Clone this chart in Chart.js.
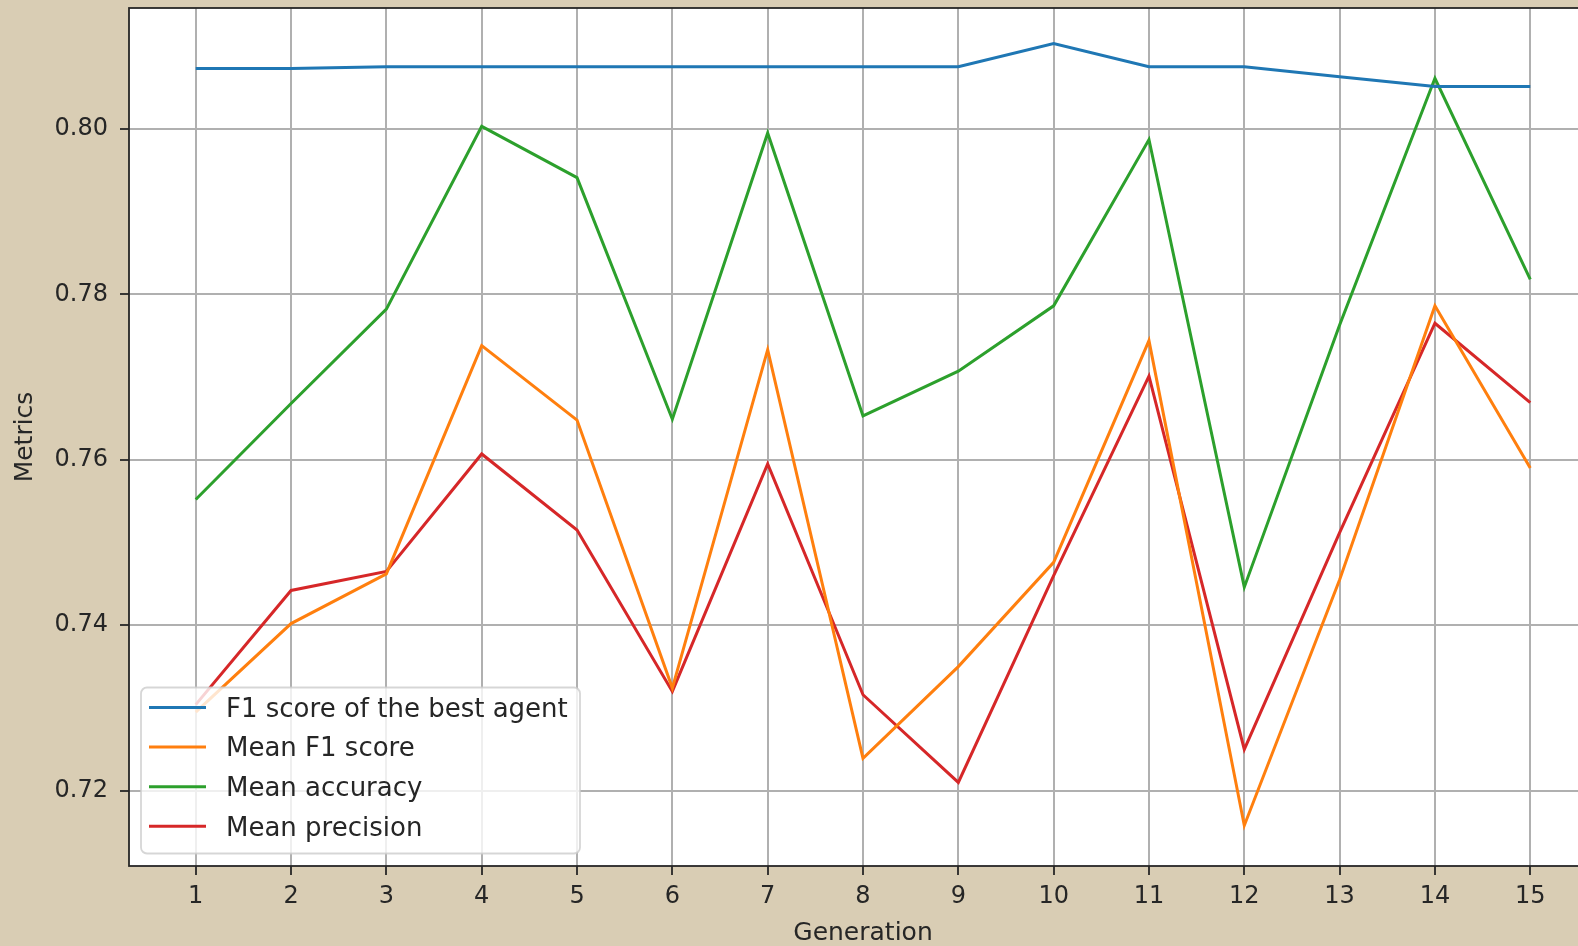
<!DOCTYPE html>
<html>
<head>
<meta charset="utf-8">
<title>Metrics per generation</title>
<script src="https://cdn.jsdelivr.net/npm/chart.js@4.4.1/dist/chart.umd.min.js"></script>
<style>
  html, body { margin: 0; padding: 0; background: #d9cdb4; overflow: hidden; }
  #wrap { width: 1600px; height: 946px; }
  canvas { display: block; }
</style>
</head>
<body>
<div id="wrap"><canvas id="chart" width="1600" height="946"></canvas></div>
<script>
// Generations on the x axis
const generations = [1, 2, 3, 4, 5, 6, 7, 8, 9, 10, 11, 12, 13, 14, 15];

// Metric series, one value per generation
const bestAgentF1   = [0.8073, 0.8073, 0.8075, 0.8075, 0.8075, 0.8075, 0.8075, 0.8075, 0.8075, 0.8103, 0.8075, 0.8075, 0.8063, 0.8051, 0.8051];
const meanF1        = [0.7295, 0.7402, 0.7462, 0.7738, 0.7648, 0.7324, 0.7733, 0.7239, 0.7350, 0.7476, 0.7744, 0.7158, 0.7455, 0.7786, 0.7590];
const meanAccuracy  = [0.7552, 0.7668, 0.7782, 0.8003, 0.7941, 0.7649, 0.7995, 0.7653, 0.7707, 0.7786, 0.7987, 0.7446, 0.7763, 0.8061, 0.7818];
const meanPrecision = [0.7304, 0.7442, 0.7465, 0.7607, 0.7515, 0.7320, 0.7595, 0.7316, 0.7210, 0.7460, 0.7701, 0.7250, 0.7512, 0.7765, 0.7669];

// Tick values and view limits of the y axis
const yTickValues = [0.72, 0.74, 0.76, 0.78, 0.80];
const yLimits = [0.7109, 0.8146];

const seriesLabels = ['F1 score of the best agent', 'Mean F1 score', 'Mean accuracy', 'Mean precision'];
const seriesColors = ['#1f77b4', '#ff7f0e', '#2ca02c', '#d62728'];
const seriesValues = [bestAgentF1, meanF1, meanAccuracy, meanPrecision];

// x limits with a 5% margin on each side of the generations
const xLo = Math.min(...generations), xHi = Math.max(...generations);
const xPad = (xHi - xLo) * 0.05;

const FONT = '"DejaVu Sans", "Liberation Sans", sans-serif';
const INK = '#262626';

const datasets = seriesValues.map((vals, i) => ({
  label: seriesLabels[i],
  data: generations.map((g, k) => ({ x: g, y: vals[k] })),
  borderColor: seriesColors[i],
  backgroundColor: seriesColors[i],
  borderWidth: 3,
  pointRadius: 0,
  tension: 0,
  fill: false
}));

// Paper background and white plotting area
const backgroundPlugin = {
  id: 'paper',
  beforeDraw(chart) {
    const { ctx, chartArea: a } = chart;
    ctx.save();
    ctx.fillStyle = '#d9cdb4';
    ctx.fillRect(0, 0, chart.width, chart.height);
    ctx.fillStyle = '#ffffff';
    ctx.fillRect(a.left, a.top, a.right - a.left, a.bottom - a.top);
    ctx.restore();
  }
};

// Axes frame drawn on top of the lines
const framePlugin = {
  id: 'frame',
  afterDatasetsDraw(chart) {
    const { ctx, chartArea: a } = chart;
    ctx.save();
    ctx.strokeStyle = INK;
    ctx.lineWidth = 1.8;
    ctx.strokeRect(a.left, a.top, a.right - a.left, a.bottom - a.top);
    ctx.restore();
  }
};

// Legend box in the lower-left corner of the plot
const legendPlugin = {
  id: 'cornerLegend',
  afterDraw(chart) {
    const { ctx, chartArea: a } = chart;
    const box = { x: a.left + 12, y: 687.5, w: 439, h: 166, r: 6 };
    const rowY0 = 707.5, rowStep = 39.6;
    ctx.save();
    ctx.beginPath();
    ctx.roundRect(box.x, box.y, box.w, box.h, box.r);
    ctx.fillStyle = 'rgba(255,255,255,0.8)';
    ctx.fill();
    ctx.strokeStyle = 'rgba(204,204,204,0.8)';
    ctx.lineWidth = 1.8;
    ctx.stroke();
    ctx.font = '26px ' + FONT;
    ctx.textBaseline = 'middle';
    ctx.textAlign = 'left';
    chart.data.datasets.forEach((ds, i) => {
      const y = rowY0 + i * rowStep;
      ctx.beginPath();
      ctx.strokeStyle = ds.borderColor;
      ctx.lineWidth = 3;
      ctx.moveTo(box.x + 8, y);
      ctx.lineTo(box.x + 65, y);
      ctx.stroke();
      ctx.fillStyle = INK;
      ctx.fillText(ds.label, box.x + 85, y + 2.5);
    });
    ctx.restore();
  }
};

new Chart(document.getElementById('chart'), {
  type: 'line',
  data: { datasets },
  options: {
    responsive: false,
    animation: false,
    devicePixelRatio: 1,
    layout: { padding: { left: 0, top: 8, right: 3, bottom: 0 } },
    plugins: { legend: { display: false }, tooltip: { enabled: false } },
    scales: {
      x: {
        type: 'linear',
        min: xLo - xPad,
        max: xHi + xPad,
        afterBuildTicks(scale) { scale.ticks = generations.map(v => ({ value: v })); },
        afterFit(scale) { scale.height = 80; scale.paddingLeft = 0; scale.paddingRight = 0; },
        grid: { color: '#b0b0b0', lineWidth: 2, drawTicks: true, tickLength: 9, tickColor: INK, tickWidth: 1.8 },
        border: { display: false },
        ticks: {
          padding: 7,
          color: INK,
          font: { family: FONT, size: 24 },
          maxRotation: 0,
          autoSkip: false,
          callback: v => String(v)
        },
        title: {
          display: true,
          text: 'Generation',
          color: INK,
          font: { family: FONT, size: 25, lineHeight: 1 },
          padding: { top: 0, bottom: 0 }
        }
      },
      y: {
        type: 'linear',
        min: yLimits[0],
        max: yLimits[1],
        afterBuildTicks(scale) { scale.ticks = yTickValues.map(v => ({ value: v })); },
        afterFit(scale) { scale.width = 129; scale.paddingTop = 0; scale.paddingBottom = 0; },
        grid: { color: '#b0b0b0', lineWidth: 2, drawTicks: true, tickLength: 9, tickColor: INK, tickWidth: 1.8 },
        border: { display: false },
        ticks: {
          padding: 12,
          color: INK,
          font: { family: FONT, size: 24 },
          autoSkip: false,
          callback: v => Number(v).toFixed(2)
        },
        title: {
          display: true,
          text: 'Metrics',
          color: INK,
          font: { family: FONT, size: 25, lineHeight: 1 },
          padding: { top: 13, bottom: 0 }
        }
      }
    }
  },
  plugins: [backgroundPlugin, framePlugin, legendPlugin]
});
</script>
</body>
</html>
